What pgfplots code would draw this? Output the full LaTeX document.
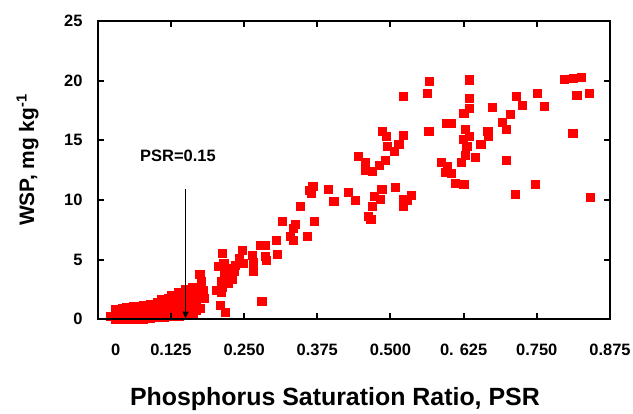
\documentclass[border=0pt]{standalone}
\usepackage{fontspec}
\setmainfont{Liberation Sans}
\usepackage{pgfplots}
\pgfplotsset{compat=1.18}
\usetikzlibrary{arrows.meta}

\begin{document}
\begin{tikzpicture}
\begin{axis}[
  name=ax, set layers,
  scale only axis, width=512bp, height=298bp,
  xmin=0, xmax=0.875, ymin=0, ymax=25,
  clip=false, axis on top,
  xtick={0,0.125,0.25,0.375,0.5,0.625,0.75,0.875},
  xticklabels={\kern36bp 0,0.125,0.250,0.375,0.500,0. 625,0.750,0.875},
  ytick={0,5,10,15,20,25},
  tick align=inside,
  major tick length=6bp,
  every tick/.style={black, line width=2bp},
  axis line style={line width=2bp},
  /pgf/number format/assume math mode=true,
  tick label style={font=\bfseries\fontsize{16.5}{18}\selectfont},
  x tick label style={anchor=north, inner sep=0pt, yshift=-25bp},
  y tick label style={anchor=east, inner sep=0pt, xshift=-15bp},
  xlabel={Phosphorus Saturation Ratio, PSR},
  xlabel style={at={(axis description cs:0.463,-0.2886)}, anchor=base, inner sep=0pt,
    font=\bfseries\fontsize{25}{28}\selectfont},
  ylabel={WSP, mg kg\textsuperscript{-1}},
  ylabel style={at={(axis description cs:-0.1243,0.534)}, anchor=base, inner sep=0pt,
    font=\bfseries\fontsize{21}{24}\selectfont},
]
% dense cluster at low PSR
\addplot[only marks, mark=square*, mark size=4.1pt, red, mark options={fill=red, draw=red, line width=0.2pt}]
coordinates {
(0.022,0.25)
(0.030,0.0)(0.030,0.45)(0.030,0.8)
(0.036,0.1)(0.036,0.6)
(0.042,0.0)(0.042,0.35)(0.042,0.9)
(0.048,0.15)(0.048,0.6)(0.048,1.0)
(0.054,0.0)(0.054,0.4)(0.054,0.85)
(0.060,0.1)(0.060,0.55)(0.060,1.05)
(0.066,0.0)(0.066,0.35)(0.066,0.8)(0.066,1.1)
(0.072,0.2)(0.072,0.6)(0.072,1.0)
(0.078,0.05)(0.078,0.45)(0.078,0.9)(0.078,1.15)
(0.084,0.25)(0.084,0.7)(0.084,1.1)
(0.090,0.1)(0.090,0.5)(0.090,0.95)(0.090,1.25)
(0.096,0.3)(0.096,0.75)(0.096,1.2)
(0.102,0.15)(0.102,0.55)(0.102,1.0)(0.102,1.45)
(0.108,0.35)(0.108,0.8)(0.108,1.3)(0.108,1.65)
(0.114,0.2)(0.114,0.6)(0.114,1.05)(0.114,1.6)
(0.120,0.4)(0.120,0.9)(0.120,1.4)(0.120,1.75)
(0.126,0.3)(0.126,0.7)(0.126,1.2)(0.126,1.65)(0.126,2.0)
(0.132,0.45)(0.132,0.95)(0.132,1.5)(0.132,2.0)
(0.138,0.3)(0.138,0.8)(0.138,1.3)(0.138,1.8)(0.138,2.3)
(0.144,0.5)(0.144,1.0)(0.144,1.6)(0.144,2.1)
(0.150,0.35)(0.150,0.9)(0.150,1.4)(0.150,2.0)(0.150,2.55)
(0.156,0.6)(0.156,1.2)(0.156,1.8)(0.156,2.4)
(0.162,0.5)(0.162,1.0)(0.162,1.6)(0.162,2.2)(0.162,2.7)
(0.168,0.8)(0.168,1.4)(0.168,2.0)(0.168,2.5)
(0.174,3.8)(0.177,3.16)(0.180,2.46)(0.181,1.76)(0.174,0.92)
};
% rising part and scattered points
\addplot[only marks, mark=square*, mark size=4.1pt, red, mark options={fill=red, draw=red, line width=0.2pt}]
coordinates {
(0.203,2.46)(0.210,2.24)(0.209,1.2)(0.218,0.59)(0.212,2.7)(0.218,3.0)
(0.213,5.54)(0.215,4.7)(0.206,4.42)(0.216,3.91)(0.210,3.16)(0.223,3.02)
(0.224,3.64)(0.225,4.3)(0.230,3.4)(0.232,4.0)(0.235,4.56)(0.241,5.12)
(0.247,5.82)(0.248,4.7)(0.263,5.4)(0.266,4.75)(0.265,4.0)(0.280,1.54)
(0.277,6.24)(0.286,6.18)(0.286,5.31)(0.287,4.92)
(0.305,6.66)(0.307,5.48)(0.315,8.25)
(0.328,6.99)(0.333,6.6)(0.334,7.63)(0.337,8.0)(0.358,6.99)
(0.346,9.45)(0.361,10.79)(0.364,10.57)(0.367,11.19)(0.369,8.25)
(0.394,10.91)(0.403,9.87)(0.427,10.63)(0.440,10.01)
(0.445,13.65)(0.456,13.17)(0.456,12.53)(0.469,12.39)(0.481,12.89)(0.491,13.37)
(0.486,15.74)(0.493,15.32)(0.494,14.49)(0.506,14.07)(0.514,14.71)(0.521,15.46)
(0.521,18.68)(0.508,11.07)(0.485,10.93)(0.482,10.1)(0.472,10.29)(0.469,9.51)
(0.462,8.61)(0.466,8.39)(0.521,10.07)(0.521,9.51)(0.529,10.01)(0.535,10.43)
(0.566,19.99)(0.562,18.96)(0.565,15.77)
(0.586,13.17)(0.597,12.81)(0.594,12.3)(0.603,12.25)(0.595,16.44)(0.603,16.44)
(0.610,11.41)(0.625,11.35)(0.621,13.17)(0.627,13.79)(0.630,14.49)(0.624,15.1)
(0.634,15.38)(0.628,15.94)(0.625,17.28)(0.634,17.7)(0.634,18.54)(0.634,20.08)
(0.645,13.59)(0.654,14.71)(0.667,15.38)(0.666,15.74)(0.673,17.78)
(0.690,16.55)(0.698,15.94)(0.698,13.31)(0.705,17.17)(0.714,18.68)(0.725,17.95)
(0.713,10.49)(0.747,11.35)(0.750,18.93)(0.762,17.84)
(0.797,20.13)(0.812,20.22)(0.825,20.3)(0.818,18.76)(0.839,18.96)(0.811,15.6)(0.841,10.23)
};
\begin{pgfonlayer}{axis foreground}
\draw[line width=1bp, -{Triangle[width=6bp,length=7bp]}] (axis cs:0.15,10.9) -- (axis cs:0.15,0.05);
\end{pgfonlayer}
\node[anchor=base, inner sep=0pt, font=\bfseries\fontsize{16.5}{18}\selectfont] at (axis cs:0.137,13.25) {PSR=0.15};
\end{axis}
\pgfresetboundingbox
\path[use as bounding box] ([xshift=-97.7bp,yshift=-94bp]ax.south west) rectangle ([xshift=23bp,yshift=21bp]ax.north east);
\end{tikzpicture}
\end{document}
